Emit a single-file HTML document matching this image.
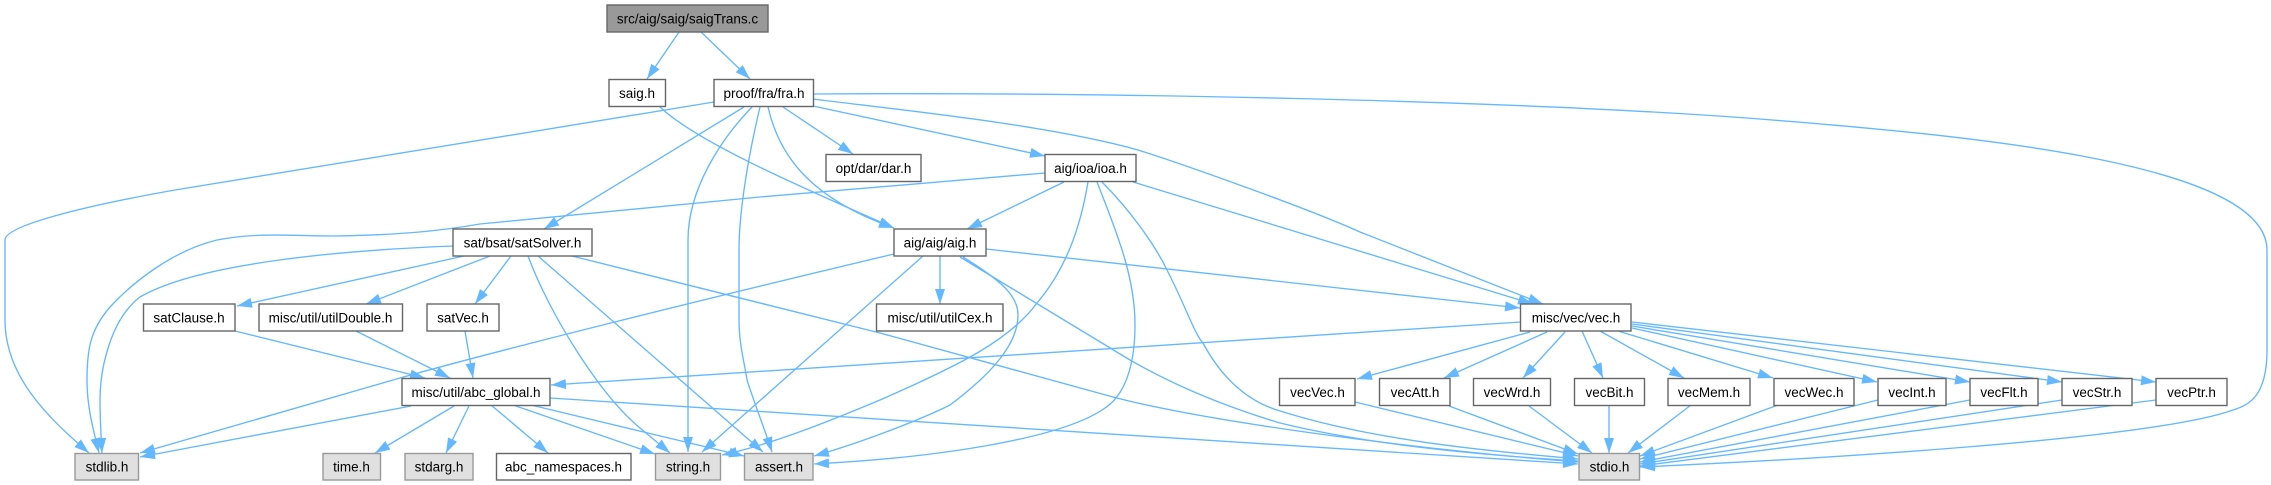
<!DOCTYPE html>
<html><head><meta charset="utf-8"><style>
html,body{margin:0;padding:0;background:#fff}
svg{display:block}
text{font-family:"Liberation Sans",Arial,sans-serif;font-size:13.5px;fill:#000;text-anchor:middle}
.n rect{fill:#fff;stroke:#666;stroke-width:1.4}
.g rect{fill:#e0e0e0;stroke:#999;stroke-width:1.4}
.r rect{fill:#999;stroke:#666;stroke-width:1.4}
.e path{fill:none;stroke:#63b8ff;stroke-width:1.35;marker-end:url(#a)}
</style></head><body>
<svg width="2271" height="485" viewBox="0 0 2271 485" xmlns="http://www.w3.org/2000/svg">
<defs><marker id="a" markerUnits="userSpaceOnUse" markerWidth="16" markerHeight="12" refX="15" refY="5.5" orient="auto"><path d="M0,0.5 L15,5.5 L0,10.5 Z" fill="#63b8ff"/></marker></defs>
<g class="e">
<path d="M679,32 L647,79"/>
<path d="M701,32 L750,79"/>
<path d="M660,107 C700,145 820,195 894,228"/>
<path d="M714,102 L175,190 C90,205 5,225 5,240 L5,320 C5,375 45,415 89,453"/>
<path d="M744,107 L544,229"/>
<path d="M752,107 C720,140 688,190 688,240 L688,452"/>
<path d="M760,107 C745,170 739,220 739,250 L739,320 C739,345 745,365 747,380 C755,405 765,430 772,452"/>
<path d="M768,107 C780,160 815,200 894,228"/>
<path d="M783,107 L853,154"/>
<path d="M813,106 L1045,156"/>
<path d="M813,99 C900,110 1050,125 1138,150 C1170,160 1300,205 1360,232 L1543,304"/>
<path d="M813,94 C1100,92 1500,100 1747,118 C1950,134 2267,160 2267,250 L2267,350 C2267,395 2250,405 2233,410 C2150,440 1800,460 1640,467"/>
<path d="M1045,173 L760,197 L480,224 C440,231 400,235 333,236 C290,236 260,232 217,240 C175,250 135,280 110,307 C90,330 87,350 87,380 C87,405 92,425 99,453"/>
<path d="M1064,182 L967,229"/>
<path d="M1088,182 C1080,230 1065,270 1037,303 C1010,340 960,365 880,400 C830,421 770,445 722,455"/>
<path d="M1097,182 C1120,240 1135,280 1135,325 C1135,365 1125,395 1105,408 C1060,440 930,458 814,464"/>
<path d="M1102,182 C1130,210 1155,245 1167,270 C1185,305 1195,335 1203,343 C1220,375 1245,400 1277,410 C1370,440 1480,450 1578,459"/>
<path d="M1133,182 L1533,304"/>
<path d="M453,246 C350,250 200,262 140,297 C110,320 100,370 100,400 C100,420 101,435 102,453"/>
<path d="M464,256 L237,306"/>
<path d="M490,256 L366,304"/>
<path d="M511,256 L475,304"/>
<path d="M528,256 C550,315 600,395 640,428 L670,453"/>
<path d="M538,256 L763,452"/>
<path d="M572,256 L880,333 L1113,397 C1200,420 1400,448 1578,462"/>
<path d="M235,331 L425,378"/>
<path d="M356,331 L450,378"/>
<path d="M465,331 L473,378"/>
<path d="M923,256 L702,452"/>
<path d="M894,254 C700,300 500,350 400,378 L140,453"/>
<path d="M940,256 L940,304"/>
<path d="M986,249 L1520,308"/>
<path d="M963,257 C1000,280 1018,295 1018,315 C1018,345 990,375 950,405 C920,420 860,443 814,456"/>
<path d="M960,257 L1130,360 C1170,383 1220,405 1280,423 C1370,445 1480,455 1578,461"/>
<path d="M1521,322 L551,385"/>
<path d="M1530,332 L1357,379"/>
<path d="M1547,332 L1444,378"/>
<path d="M1565,332 L1523,378"/>
<path d="M1582,331 L1603,378"/>
<path d="M1600,331 L1684,378"/>
<path d="M1618,331 L1773,378"/>
<path d="M1632,328 L1877,382"/>
<path d="M1632,326 L1970,382"/>
<path d="M1632,324 L2062,382"/>
<path d="M1632,322 L2156,382"/>
<path d="M411,406 L140,457"/>
<path d="M454,406 L375,453"/>
<path d="M469,406 L446,453"/>
<path d="M491,405 L548,453"/>
<path d="M513,405 L655,454"/>
<path d="M531,405 L744,456"/>
<path d="M550,398 L1578,464"/>
<path d="M1355,402 L1578,456"/>
<path d="M1449,406 L1578,454"/>
<path d="M1529,406 L1592,453"/>
<path d="M1609,405 L1609,453"/>
<path d="M1691,405 L1628,453"/>
<path d="M1778,405 L1640,456"/>
<path d="M1878,400 L1640,459"/>
<path d="M1970,400 L1640,462"/>
<path d="M2062,400 L1640,464"/>
<path d="M2156,400 L1640,466"/>
</g>
<g class="r"><rect x="607" y="5" width="161" height="27"/><text x="687.5" y="23.5">src/aig/saig/saigTrans.c</text></g>
<g class="n">
<rect x="609" y="79.500" width="56.500" height="27"/><text x="637" y="98">saig.h</text>
<rect x="714" y="79.500" width="99.500" height="27"/><text x="764" y="98">proof/fra/fra.h</text>
<rect x="826" y="154.500" width="95" height="27"/><text x="873.500" y="173">opt/dar/dar.h</text>
<rect x="1045" y="154.500" width="91" height="27"/><text x="1090.500" y="173">aig/ioa/ioa.h</text>
<rect x="453" y="229" width="139" height="27"/><text x="522.500" y="247.500">sat/bsat/satSolver.h</text>
<rect x="894" y="229" width="92" height="27"/><text x="940" y="247.500">aig/aig/aig.h</text>
<rect x="143.500" y="304" width="91.500" height="27"/><text x="189" y="322.500">satClause.h</text>
<rect x="259" y="304" width="143.500" height="27"/><text x="330.500" y="322.500">misc/util/utilDouble.h</text>
<rect x="427" y="304" width="72" height="27"/><text x="463" y="322.500">satVec.h</text>
<rect x="876.500" y="304" width="126.500" height="27"/><text x="940" y="322.500">misc/util/utilCex.h</text>
<rect x="1520.500" y="304" width="110.500" height="27"/><text x="1576" y="322.500">misc/vec/vec.h</text>
<rect x="402" y="378.500" width="148" height="27"/><text x="476" y="397">misc/util/abc_global.h</text>
<rect x="1279.500" y="378.500" width="75.500" height="27"/><text x="1317.500" y="397">vecVec.h</text>
<rect x="1379.500" y="378.500" width="70.500" height="27"/><text x="1415" y="397">vecAtt.h</text>
<rect x="1473.500" y="378.500" width="77" height="27"/><text x="1512" y="397">vecWrd.h</text>
<rect x="1574.500" y="378.500" width="70" height="27"/><text x="1609.500" y="397">vecBit.h</text>
<rect x="1668" y="378.500" width="82" height="27"/><text x="1709" y="397">vecMem.h</text>
<rect x="1774" y="378.500" width="80" height="27"/><text x="1814" y="397">vecWec.h</text>
<rect x="1878" y="378.500" width="68" height="27"/><text x="1912" y="397">vecInt.h</text>
<rect x="1970" y="378.500" width="68" height="27"/><text x="2004" y="397">vecFlt.h</text>
<rect x="2062" y="378.500" width="70" height="27"/><text x="2097" y="397">vecStr.h</text>
<rect x="2156" y="378.500" width="71" height="27"/><text x="2191.500" y="397">vecPtr.h</text>
<rect x="496.500" y="453.500" width="134.500" height="26.500"/><text x="563.500" y="471.500">abc_namespaces.h</text>
</g>
<g class="g">
<rect x="75" y="453.500" width="63.500" height="26.500"/><text x="107" y="471.500">stdlib.h</text>
<rect x="323" y="453.500" width="57.500" height="26.500"/><text x="351.500" y="471.500">time.h</text>
<rect x="405" y="453.500" width="68" height="26.500"/><text x="439" y="471.500">stdarg.h</text>
<rect x="655.500" y="453.500" width="65" height="26.500"/><text x="688" y="471.500">string.h</text>
<rect x="744.500" y="453.500" width="68.500" height="26.500"/><text x="779" y="471.500">assert.h</text>
<rect x="1579" y="453.500" width="60.500" height="26.500"/><text x="1609.500" y="471.500">stdio.h</text>
</g>
</svg>
</body></html>
